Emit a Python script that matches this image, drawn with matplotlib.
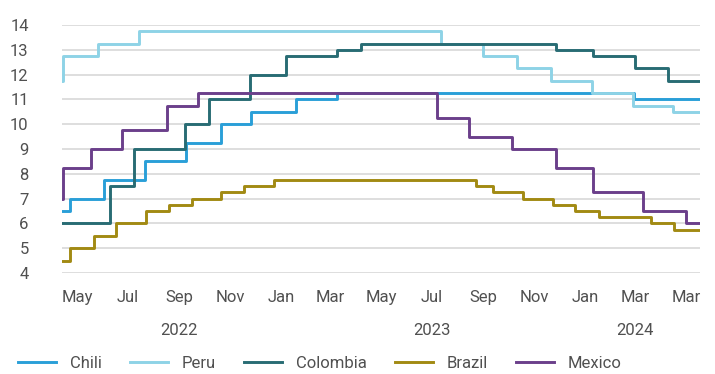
import matplotlib.pyplot as plt
import matplotlib.transforms as mtransforms
import pandas as pd

plt.rcParams['font.family'] = ['Roboto', 'DejaVu Sans']

chili_dates = ['2022-04-13', '2022-04-23', '2022-06-03', '2022-07-22', '2022-09-09', '2022-10-21',
               '2022-11-26', '2023-01-19', '2023-03-09', '2024-02-29', '2024-05-18']
chili_vals = [6.5, 7.0, 7.75, 8.5, 9.25, 10.0, 10.5, 11.0, 11.25, 11.0, 11.0]

peru_dates = ['2022-04-13', '2022-04-14', '2022-05-26', '2022-07-14', '2023-07-12', '2023-08-31',
              '2023-10-11', '2023-11-21', '2024-01-09', '2024-02-28', '2024-04-16', '2024-05-18']
peru_vals = [11.75, 12.75, 13.25, 13.75, 13.25, 12.75, 12.25, 11.75, 11.25, 10.75, 10.5, 10.5]

colombia_dates = ['2022-04-13', '2022-06-10', '2022-07-08', '2022-09-08', '2022-10-07', '2022-11-25',
                  '2023-01-07', '2023-03-09', '2023-04-07', '2023-11-27', '2024-01-11', '2024-03-01',
                  '2024-04-09', '2024-05-18']
colombia_vals = [6.0, 7.5, 9.0, 10.0, 11.0, 12.0, 12.75, 13.0, 13.25, 13.0, 12.75, 12.25, 11.75, 11.75]

brazil_dates = ['2022-04-13', '2022-04-23', '2022-05-21', '2022-06-17', '2022-07-23', '2022-08-20',
                '2022-09-16', '2022-10-21', '2022-11-17', '2022-12-23', '2023-08-23', '2023-09-13',
                '2023-10-19', '2023-11-23', '2023-12-20', '2024-01-18', '2024-03-20', '2024-04-17',
                '2024-05-18']
brazil_vals = [4.5, 5.0, 5.5, 6.0, 6.5, 6.75, 7.0, 7.25, 7.5, 7.75, 7.5, 7.25, 7.0, 6.75, 6.5,
               6.25, 6.0, 5.75, 5.75]

mexico_dates = ['2022-04-13', '2022-04-14', '2022-05-18', '2022-06-24', '2022-08-17', '2022-09-23',
                '2023-07-07', '2023-08-15', '2023-10-05', '2023-11-27', '2024-01-10', '2024-03-11',
                '2024-05-01', '2024-05-18']
mexico_vals = [7.0, 8.25, 9.0, 9.75, 10.75, 11.25, 10.25, 9.5, 9.0, 8.25, 7.25, 6.5, 6.0, 6.0]

series = [
    ('Chili', chili_dates, chili_vals, '#2a9fd8'),
    ('Peru', peru_dates, peru_vals, '#8ed3e6'),
    ('Colombia', colombia_dates, colombia_vals, '#286c74'),
    ('Brazil', brazil_dates, brazil_vals, '#a28a13'),
    ('Mexico', mexico_dates, mexico_vals, '#6b3f8b'),
]

tick_dates = pd.date_range('2022-05-01', '2024-05-01', freq='2MS')
tick_labels = ['May', 'Jul', 'Sep', 'Nov', 'Jan', 'Mar', 'May', 'Jul', 'Sep', 'Nov', 'Jan', 'Mar', 'Mar']
year_dates = ['2022-09-01', '2023-07-01', '2024-03-01']
year_labels = ['2022', '2023', '2024']

txt = '#505050'

fig = plt.figure(figsize=(7.15, 3.74), dpi=100)
ax = fig.add_axes([62 / 715, 1 - 273 / 374, 638 / 715, 248 / 374])

for name, d, v, c in series:
    ax.plot(pd.to_datetime(d), v, drawstyle='steps-post', color=c, lw=2.1, label=name)

ax.set_xlim(pd.Timestamp('2022-04-13'), pd.Timestamp('2024-05-18'))
ax.set_ylim(4, 14)
ax.set_yticks(range(4, 15))
ax.set_xticks(tick_dates)
ax.set_xticklabels(tick_labels)
ax.tick_params(axis='both', length=0, labelsize=12, labelcolor=txt)
ax.tick_params(axis='y', pad=24)
ax.tick_params(axis='x', pad=12)
ax.grid(axis='y', color='#d4d4d4', lw=1.1)
ax.set_axisbelow(True)
for s in ax.spines.values():
    s.set_visible(False)

trans = mtransforms.blended_transform_factory(ax.transData, ax.transAxes)
for d, lab in zip(year_dates, year_labels):
    ax.text(pd.Timestamp(d), -0.23, lab, transform=trans, ha='center', va='center',
            fontsize=12, color=txt)

leg = fig.legend(loc='center left', bbox_to_anchor=(18 / 715, 1 - 363 / 374), ncol=5,
                 frameon=False, fontsize=12, handlelength=2.3, handletextpad=0.8,
                 columnspacing=1.7, borderpad=0, borderaxespad=0)
for t in leg.get_texts():
    t.set_color(txt)

fig.savefig('out.png', dpi=100)
